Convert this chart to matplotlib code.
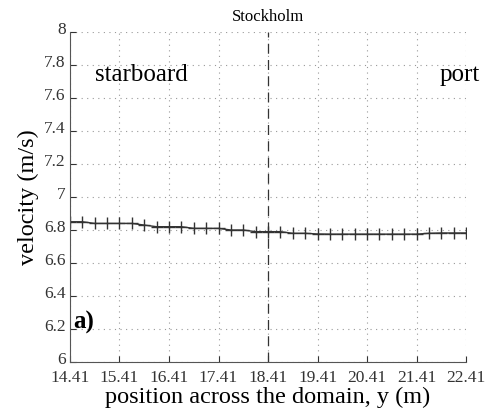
import numpy as np
import matplotlib.pyplot as plt
import matplotlib.transforms as mtransforms

plt.rcParams['font.family'] = ['Liberation Serif', 'DejaVu Serif']

y_pos = [14.41, 14.66, 14.91, 15.16, 15.41, 15.66, 15.91, 16.16, 16.41, 16.66, 16.91,
         17.16, 17.41, 17.66, 17.91, 18.16, 18.41, 18.66, 18.91, 19.16, 19.41, 19.66,
         19.91, 20.16, 20.41, 20.66, 20.91, 21.16, 21.41, 21.66, 21.91, 22.16, 22.41]
velocity = [6.85, 6.85, 6.84, 6.84, 6.84, 6.84, 6.83, 6.82, 6.82, 6.82, 6.81,
            6.81, 6.81, 6.80, 6.80, 6.79, 6.79, 6.79, 6.78, 6.78, 6.776, 6.775,
            6.775, 6.775, 6.775, 6.775, 6.775, 6.775, 6.775, 6.78, 6.782, 6.782, 6.782]
xticks = [14.41, 15.41, 16.41, 17.41, 18.41, 19.41, 20.41, 21.41, 22.41]
yticks = [6, 6.2, 6.4, 6.6, 6.8, 7, 7.2, 7.4, 7.6, 7.8, 8]
ship_y = 18.41

fig = plt.figure(figsize=(4.88, 4.16), dpi=100)
ax = fig.add_axes([0.1434, 0.1298, 0.8116, 0.7932])

ax.plot(y_pos, velocity, color='#333333', lw=1.0, marker='+', ms=8, mew=1.0)
ax.axvline(ship_y, color='#333333', lw=0.9, ls=(0, (8, 5)))

ax.set_xlim(14.41, 22.41)
ax.set_ylim(6, 8)
ax.set_xticks(xticks)
ax.set_xticklabels([f'{t:.2f}' for t in xticks])
ax.set_yticks(yticks)
ax.set_yticklabels([f'{t:g}' for t in yticks])
ax.tick_params(direction='in', length=4, labelsize=12.5, colors='#333333', pad=3)
ax.tick_params(axis='x', pad=6)
ax.grid(True, ls=(0, (1, 4)), color='#999999', lw=0.8)

# lift the y tick labels a little so "6" clears "14.41"
shift = mtransforms.ScaledTranslation(0, 3 / 72, fig.dpi_scale_trans)
for lab in ax.get_yticklabels():
    lab.set_transform(lab.get_transform() + shift)

for s in ['top', 'right']:
    ax.spines[s].set_visible(False)
for s in ['left', 'bottom']:
    ax.spines[s].set_color('#555555')

ax.set_xlabel('position across the domain, y (m)', fontsize=17.5, labelpad=0)
ax.set_ylabel('velocity (m/s)', fontsize=17.5, labelpad=4)
ax.text(ship_y, 8.04, 'Stockholm', ha='center', va='bottom', fontsize=12)
ax.text(14.91, 7.74, 'starboard', ha='left', va='center', fontsize=18)
ax.text(22.69, 7.74, 'port', ha='right', va='center', fontsize=18, clip_on=False)
ax.text(14.47, 6.24, 'a)', ha='left', va='center', fontsize=18, fontweight='bold')

fig.savefig('out.png', dpi=100)
